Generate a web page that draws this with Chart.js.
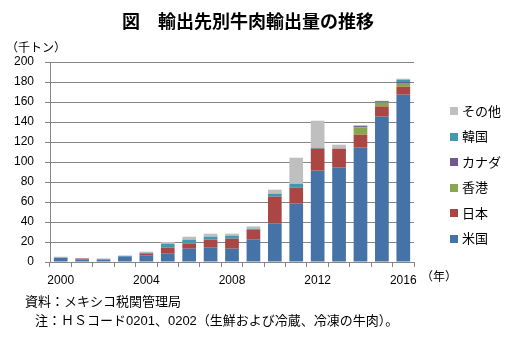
<!DOCTYPE html>
<html>
<head>
<meta charset="utf-8">
<script src="https://cdn.jsdelivr.net/npm/chart.js@4/dist/chart.umd.min.js"></script>
<style>
  html, body { margin: 0; padding: 0; background: #ffffff; }
  canvas { display: block; }
</style>
</head>
<body>
<canvas id="c" width="526" height="342"></canvas>
<script>
// Mexican beef exports by destination (thousand tonnes)
const years = ['2000','2001','2002','2003','2004','2005','2006','2007','2008','2009','2010','2011','2012','2013','2014','2015','2016'];
const usa    = [4.3, 2.6, 2.6, 5.6, 6.3, 8.3, 13.3, 14.3, 13.3, 22.3, 38.3, 58.3, 91.3, 94.3, 114.3, 145.3, 167.3];
const japan  = [0, 1.0, 0, 0, 2.3, 6.0, 5.3, 8.0, 10.0, 10.0, 27.0, 16.0, 22.0, 19.0, 13.0, 10.3, 8.0];
const hongKong = [0, 0, 0, 0, 0, 0, 0, 0, 0, 0, 0, 0, 0, 0, 7.3, 4.0, 3.0];
const canada = [0, 0, 0, 0, 0, 0, 0, 0, 0, 0, 0, 0, 0, 0, 1.3, 1.2, 1.7];
const korea  = [0, 0, 0, 0.7, 0.7, 4.0, 3.7, 3.0, 3.0, 1.0, 3.0, 4.0, 1.0, 0, 0, 0, 2.3];
const others = [1.0, 0, 1.0, 0, 1.0, 1.7, 3.0, 3.0, 2.0, 2.3, 4.0, 26.0, 27.0, 4.0, 1.0, 0.5, 1.0];
const yTicks = [0, 20, 40, 60, 80, 100, 120, 140, 160, 180, 200];

const seriesNames  = ['米国', '日本', '香港', 'カナダ', '韓国', 'その他'];
const seriesValues = [usa, japan, hongKong, canada, korea, others];
const seriesColors = ['#4572A7', '#AA4643', '#89A54E', '#71588F', '#4198AF', '#BFBFBF'];

const CJK = '"Noto Sans CJK JP", "Noto Sans", sans-serif';
const LATIN = '"Liberation Sans", Arial, sans-serif';
const MIXED = '"Liberation Sans", "Noto Sans CJK JP", sans-serif';

// Title, axis unit captions, source notes and legend
const decorations = {
  id: 'decorations',
  afterDraw(chart) {
    const ctx = chart.ctx;
    ctx.save();
    ctx.fillStyle = '#000000';
    ctx.textBaseline = 'middle';

    ctx.font = 'bold 18px ' + CJK;
    ctx.textAlign = 'center';
    ctx.fillText('図　輸出先別牛肉輸出量の推移', 248, 21);

    ctx.textAlign = 'left';
    ctx.font = '12px ' + CJK;
    ctx.fillText('（千トン）', 6, 47);
    ctx.fillText('（年）', 421, 276);

    ctx.font = '13px ' + MIXED;
    ctx.fillText('資料：メキシコ税関管理局', 25, 302);
    ctx.fillText('注：ＨＳコード0201、0202（生鮮および冷蔵、冷凍の牛肉）。', 35, 321);

    // legend, top entry = top of stack
    ctx.font = '13px ' + CJK;
    const ds = chart.data.datasets;
    for (let k = 0; k < ds.length; k++) {
      const d = ds[ds.length - 1 - k];
      const y = 111 + 25.5 * k;
      ctx.fillStyle = d.backgroundColor;
      ctx.fillRect(450, Math.round(y - 4), 8, 8);
      ctx.fillStyle = '#000000';
      ctx.fillText(d.label, 462, y);
    }
    ctx.restore();
  }
};

new Chart(document.getElementById('c'), {
  type: 'bar',
  data: {
    labels: years,
    datasets: seriesNames.map((name, i) => ({
      label: name,
      data: seriesValues[i],
      backgroundColor: seriesColors[i],
      borderWidth: 0,
      barPercentage: 0.64,
      categoryPercentage: 1.0
    }))
  },
  options: {
    responsive: false,
    animation: false,
    devicePixelRatio: 1,
    layout: { padding: { left: 0, top: 62, right: 112, bottom: 50 } },
    plugins: {
      legend: { display: false },
      title: { display: false },
      tooltip: { enabled: false }
    },
    scales: {
      x: {
        stacked: true,
        afterFit(s) { s.height = 30; },
        grid: {
          offset: true,
          drawOnChartArea: false,
          drawTicks: true,
          tickLength: 5,
          color: '#868686'
        },
        border: { display: true, color: '#868686', width: 1 },
        ticks: {
          autoSkip: false,
          maxRotation: 0,
          minRotation: 0,
          padding: 6,
          color: '#000000',
          font: { family: LATIN, size: 12 },
          callback(value, index) { return index % 4 === 0 ? years[index] : ''; }
        }
      },
      y: {
        stacked: true,
        min: yTicks[0],
        max: yTicks[yTicks.length - 1],
        afterFit(s) { s.width = 50; },
        afterBuildTicks(s) { s.ticks = yTicks.map(v => ({ value: v })); },
        grid: {
          color: '#868686',
          lineWidth: 1,
          drawTicks: true,
          tickLength: 5
        },
        border: { display: true, color: '#868686', width: 1 },
        ticks: {
          padding: 11,
          color: '#000000',
          font: { family: LATIN, size: 12 }
        }
      }
    }
  },
  plugins: [decorations]
});
</script>
</body>
</html>
